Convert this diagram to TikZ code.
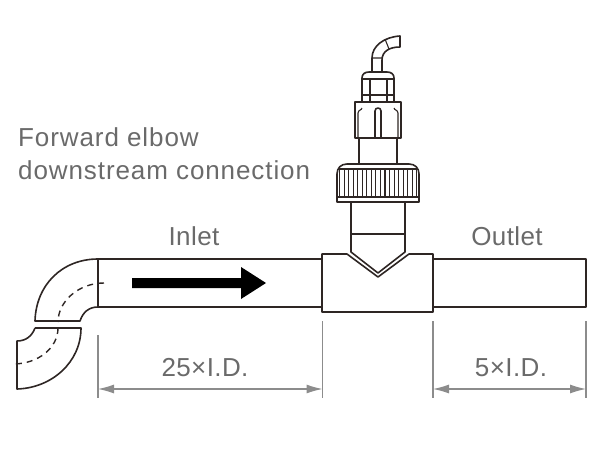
\documentclass[tikz,border=0pt]{standalone}
\usepackage{fontspec}
\setmainfont{Liberation Sans}
\newfontfamily\spacedfont[LetterSpace=3.5]{Liberation Sans}
\newfontfamily\lessfont[LetterSpace=1.5]{Liberation Sans}
\usetikzlibrary{arrows.meta}
\definecolor{ink}{HTML}{2E2624}
\definecolor{solid}{HTML}{231815}
\definecolor{dimc}{HTML}{8C8C8C}
\definecolor{txt}{HTML}{6A6A6A}
\tikzset{
  pipeline/.style={draw=ink,line width=1.6pt,line join=round},
  thinline/.style={draw=ink,line width=1.1pt},
  dashline/.style={draw=ink,line width=1.4pt,dash pattern=on 6pt off 5pt},
  dimline/.style={draw=dimc,line width=1.1pt},
  dimarrow/.style={dimline,{Latex[length=16pt,width=9pt,color=dimc]}-{Latex[length=16pt,width=9pt,color=dimc]}},
  lab/.style={text=txt,font=\lessfont\fontsize{26}{30}\selectfont,inner sep=0pt},
  longlab/.style={text=txt,font=\spacedfont\fontsize{26}{30}\selectfont,inner sep=0pt},
}
\begin{document}
\begin{tikzpicture}[x=1pt,y=-1pt]
\useasboundingbox (0,0) rectangle (600,450);
% cable
\draw[pipeline] (372,72) -- (372,58) .. controls (372,46) and (384,37) .. (400,36) -- (400,47) .. controls (390,47) and (382,51) .. (382,60) -- (382,72);
\draw[thinline] (372,58) -- (382,58) (385,39) -- (389,49);
% gland nut
\draw[pipeline] (362,102) -- (362,78) .. controls (362,74) and (365,72) .. (369,72) -- (387,72) .. controls (391,72) and (394,74) .. (394,78) -- (394,102);
\draw[pipeline] (362,79) -- (394,79) (362,95) -- (394,95) (370,79) -- (370,102) (387,79) -- (387,102);
\draw[pipeline] (355,102) -- (401,102) -- (401,138) -- (355,138) -- cycle;
\draw[pipeline] (375,138) -- (375,111) .. controls (375,107) and (381,107) .. (381,111) -- (381,138);
\draw[thinline] (358,138) -- (358,113) .. controls (358,110) and (362,110) .. (362,108) (398,138) -- (398,113) .. controls (398,110) and (394,110) .. (394,108);
% stem to cap
\draw[pipeline] (359,138) -- (359,164) (397,138) -- (397,164);
% knurled cap
\draw[pipeline] (337,202) -- (337,174) .. controls (337,168) and (341,164) .. (347,164) -- (409,164) .. controls (415,164) and (419,168) .. (419,174) -- (419,202) -- cycle;
\draw[pipeline] (339,169) -- (417,169) (337,197) -- (419,197);
\foreach \i in {0,...,17} {\draw[thinline] ({339.5+\i*4.55},169) -- ({339.5+\i*4.55},197);}
% lower stem
\draw[pipeline] (351,202) -- (351,252) -- (378,273) -- (405,252) -- (405,202);
\draw[pipeline] (351,234) -- (405,234);
% tee
\draw[pipeline] (322,254) -- (347,254) -- (378,277) -- (409,254) -- (433,254) -- (433,312) -- (322,312) -- cycle;
% pipes
\draw[pipeline] (322,259) -- (98,259) -- (98,307) -- (322,307);
\draw[pipeline] (433,259) -- (586,259) -- (586,307) -- (433,307);
% elbow
\draw[pipeline] (98,259) .. controls (62,259) and (36,285) .. (35,321) -- (80,321) .. controls (83,312) and (89,307) .. (98,307);
\draw[pipeline] (35,328) -- (81,328) .. controls (81,362) and (52,388) .. (17,389) -- (17,341) .. controls (26,341) and (32,336) .. (35,328);
\draw[dashline] (104,283) .. controls (78,283) and (58,302) .. (58,322);
\draw[dashline] (58,328) .. controls (58,348) and (38,364) .. (13,364);
% flow arrow
\fill[solid] (132,278) -- (241,278) -- (241,267) -- (266,283) -- (241,299) -- (241,288) -- (132,288) -- cycle;
% dimensions
\coordinate (d0t) at (98,335); \coordinate (d0b) at (98,398);
\coordinate (d1t) at (322.5,321); \coordinate (d1b) at (322.5,398);
\coordinate (d2t) at (433,321); \coordinate (d2b) at (433,398);
\coordinate (d3t) at (586,321); \coordinate (d3b) at (586,398);
\coordinate (a0) at (98,389); \coordinate (a1) at (322.5,389); \coordinate (a2) at (433,389); \coordinate (a3) at (586,389);
\draw[dimline] (d0t) -- (d0b);
\draw[dimline] (d1t) -- (d1b);
\draw[dimline] (d2t) -- (d2b);
\draw[dimline] (d3t) -- (d3b);
\draw[dimarrow] (a0) -- (a1);
\draw[dimarrow] (a2) -- (a3);
% labels
\node[longlab,anchor=west] (t1) at (18,137) {Forward elbow};
\node[longlab,anchor=west] (t2) at (18,170) {downstream connection};
\node[lab] (inlet) at (194,236) {Inlet};
\node[lab] (outlet) at (507,236) {Outlet};
\node[lab] (d25) at (205,368) {25×I.D.};
\node[lab] (d5) at (511,368) {5×I.D.};
\end{tikzpicture}
\end{document}
